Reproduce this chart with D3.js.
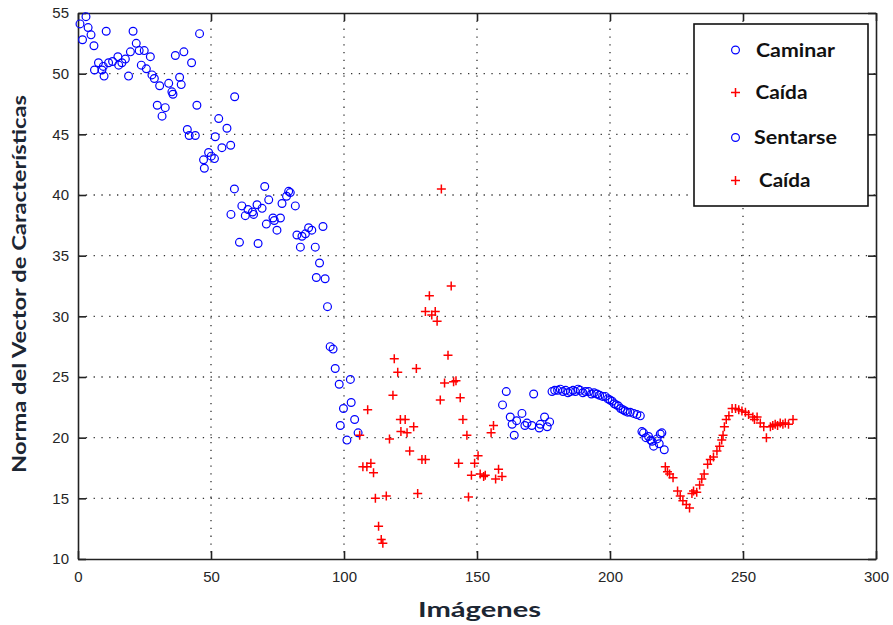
<!DOCTYPE html>
<html><head><meta charset="utf-8">
<script src="https://cdn.jsdelivr.net/npm/d3@7"></script>
<style>body{margin:0;background:#fff}</style>
</head><body><svg id="c" width="893" height="625"></svg>
<script>
const xTicks=[0,50,100,150,200,250,300];
const yTicks=[10,15,20,25,30,35,40,45,50,55];
const xTitle="Imágenes";
const yTitle="Norma del Vector de Características";
const legendLabels=["Caminar","Caída","Sentarse","Caída"];

const caminar=[[0.75,54.1],[1.7,52.8],[3.0,54.7],[3.8,53.8],[4.9,53.2],[6.0,52.3],[6.2,50.3],[7.7,50.9],[9.0,50.3],[9.5,50.6],[9.8,49.8],[10.6,53.5],[11.5,50.9],[13.0,51.0],[15.0,51.4],[15.3,50.7],[16.5,50.9],[17.8,51.2],[19.0,49.8],[19.7,51.8],[20.7,53.5],[21.9,52.5],[23.0,51.9],[23.8,50.7],[24.9,51.9],[25.7,50.4],[27.2,51.4],[27.8,49.9],[28.7,49.6],[29.8,47.4],[30.7,49.0],[31.6,46.5],[32.8,47.2],[34.1,49.2],[35.3,48.5],[35.7,48.3],[36.6,51.5],[38.2,49.7],[38.8,49.1],[39.8,51.8],[41.1,45.4],[41.8,44.9],[42.7,50.9],[44.1,44.9],[44.7,47.4],[45.7,53.3],[47.2,42.9],[47.5,42.2],[49.1,43.5],[50.1,43.2],[51.3,43.0],[51.6,44.8],[52.9,46.3],[54.1,43.9],[56.0,45.5],[57.4,44.1],[58.9,48.1],[57.5,38.4],[58.8,40.5],[60.7,36.1],[61.6,39.1],[62.9,38.3],[63.9,38.8],[65.6,38.6],[66.0,38.4],[67.3,39.2],[67.7,36.0],[69.2,38.9],[70.2,40.7],[70.8,37.6],[71.7,39.6],[73.3,38.1],[73.8,37.9],[74.8,37.1],[76.1,38.1],[76.7,39.3],[78.4,39.9],[79.2,40.3],[79.8,40.2],[81.7,39.1],[82.3,36.7],[83.6,35.7],[84.2,36.6],[85.5,36.8],[86.7,37.3],[87.9,37.1],[89.2,35.7],[89.6,33.2],[90.8,34.4],[92.1,37.4],[92.9,33.1],[93.8,30.8],[94.8,27.5],[95.9,27.3],[96.7,25.7],[98.2,24.4],[98.6,21.0],[99.8,22.4],[101.1,19.8],[102.4,24.8],[102.7,22.9],[104.0,21.5],[105.3,20.4]];

const caida1=[[105.9,20.2],[107.1,17.6],[108.6,17.6],[108.9,22.3],[110.1,17.9],[111.1,17.1],[111.8,15.0],[113.0,12.7],[114.0,11.6],[114.6,11.3],[115.9,15.2],[117.1,19.9],[118.4,23.5],[118.9,26.5],[120.2,25.4],[121.2,21.5],[121.4,20.5],[123.0,21.5],[123.7,20.4],[124.7,18.9],[126.2,20.9],[127.2,25.7],[127.7,15.4],[129.3,18.2],[130.6,18.2],[130.6,30.4],[132.1,31.7],[133.0,30.1],[134.3,30.4],[135.0,29.6],[136.2,23.1],[136.6,40.5],[137.8,24.5],[139.1,26.8],[140.3,32.5],[141.2,24.6],[142.1,24.7],[143.1,17.9],[143.7,23.3],[144.7,21.5],[146.2,20.2],[146.8,15.1],[147.9,16.9],[149.1,17.9],[150.4,18.5],[151.2,17.0],[152.5,16.8],[153.1,16.9],[155.3,20.4],[156.2,21.0],[157.0,16.6],[158.1,17.4],[159.4,16.8]];

const sentarse=[[159.6,22.7],[161.0,23.8],[162.5,21.7],[163.2,21.1],[164.0,20.2],[164.9,21.4],[166.9,22.0],[168.0,21.0],[168.8,21.2],[170.6,21.0],[171.3,23.6],[173.4,20.8],[173.8,21.1],[175.4,21.7],[176.4,20.9],[177.3,21.3],[178.2,23.8],[179.2,23.9],[180.3,23.9],[181.3,24.0],[182.3,23.8],[183.3,23.9],[184.2,23.7],[185.1,23.8],[186.1,23.9],[187.0,23.8],[188.0,24.0],[188.8,23.9],[189.8,23.7],[190.8,23.8],[192.0,23.8],[193.0,23.6],[194.0,23.7],[195.1,23.6],[196.1,23.5],[197.2,23.4],[198.2,23.4],[199.2,23.2],[200.0,23.1],[200.8,23.0],[201.6,22.8],[202.4,22.7],[203.2,22.6],[204.0,22.4],[204.9,22.3],[205.7,22.2],[206.6,22.1],[207.6,22.1],[208.9,22.0],[210.1,21.9],[211.4,21.8],[212.0,20.5],[212.6,20.4],[213.5,20.0],[214.5,20.1],[215.3,19.8],[215.8,19.7],[216.4,19.3],[217.7,19.9],[218.5,19.5],[218.9,20.3],[219.5,20.4],[220.4,19.0]];

const caida2=[[220.8,17.6],[221.6,17.2],[222.4,17.0],[223.7,16.7],[225.4,15.6],[226.4,15.2],[227.4,14.8],[228.7,14.5],[229.9,14.2],[230.8,15.4],[231.4,15.6],[232.6,15.5],[233.7,16.1],[234.5,16.6],[235.4,17.0],[236.7,17.8],[237.7,18.2],[238.9,18.4],[240.2,18.9],[241.2,19.3],[242.0,19.8],[242.5,20.2],[243.0,20.9],[243.7,21.5],[244.7,21.8],[245.9,22.4],[247.2,22.4],[248.4,22.3],[249.6,22.2],[250.9,22.1],[252.1,21.9],[253.7,21.7],[254.3,21.5],[255.3,21.7],[256.5,21.2],[257.8,20.9],[258.8,20.0],[260.3,20.9],[261.2,21.0],[262.1,21.1],[263.0,21.0],[264.0,21.2],[265.0,21.1],[265.9,21.2],[267.1,21.1],[268.8,21.5]];

const L=78,R=876,T=13,B=559;
const svg=d3.select("#c");
const x=d3.scaleLinear().domain([0,300]).range([L,R]);
const y=d3.scaleLinear().domain([10,55]).range([B,T]);

// grid
const g=svg.append("g");
g.selectAll("line.vg").data(xTicks.slice(1,-1)).enter().append("line")
 .attr("x1",d=>x(d)).attr("x2",d=>x(d)).attr("y1",T).attr("y2",B)
 .attr("stroke","#333").attr("stroke-width",1.3).attr("stroke-dasharray","1.3,6.5");
g.selectAll("line.hg").data(yTicks.slice(1,-1)).enter().append("line")
 .attr("y1",d=>y(d)).attr("y2",d=>y(d)).attr("x1",L).attr("x2",R)
 .attr("stroke","#333").attr("stroke-width",1.3).attr("stroke-dasharray","1.3,6.5");

// axes
const tf="Liberation Sans, Arial, sans-serif";
const axB=svg.append("g").attr("transform",`translate(0,${B})`).call(d3.axisBottom(x).tickValues(xTicks).tickSizeInner(-8).tickSizeOuter(0).tickPadding(12));
const axL=svg.append("g").attr("transform",`translate(${L},0)`).call(d3.axisLeft(y).tickValues(yTicks).tickSizeInner(-8).tickSizeOuter(0).tickPadding(9));
const axT=svg.append("g").attr("transform",`translate(0,${T})`).call(d3.axisTop(x).tickValues(xTicks).tickSizeInner(-8).tickSizeOuter(0).tickFormat(""));
const axR=svg.append("g").attr("transform",`translate(${R},0)`).call(d3.axisRight(y).tickValues(yTicks).tickSizeInner(-8).tickSizeOuter(0).tickFormat(""));
[axB,axL,axT,axR].forEach(a=>{
  a.select(".domain").attr("stroke","#222").attr("stroke-width",1.6);
  a.selectAll(".tick line").attr("stroke","#222").attr("stroke-width",1.6);
  a.selectAll(".tick text").attr("fill","#262626").style("font-family",tf).style("font-size","15px");
});

// markers
const plus=(sel,data)=>{
  sel.selectAll(null).data(data).enter().append("path")
   .attr("d",d=>{const cx=x(d[0]),cy=y(d[1]);return `M${cx-4.5},${cy}H${cx+4.5}M${cx},${cy-4.5}V${cy+4.5}`;})
   .attr("stroke","#ff0000").attr("stroke-width",1.5).attr("fill","none");
};
const circ=(sel,data)=>{
  sel.selectAll(null).data(data).enter().append("circle")
   .attr("cx",d=>x(d[0])).attr("cy",d=>y(d[1])).attr("r",3.9)
   .attr("stroke","#0000ff").attr("stroke-width",1.2).attr("fill","none");
};
const m=svg.append("g");
circ(m,caminar); plus(m,caida1); circ(m,sentarse); plus(m,caida2);

// titles
const lf="Lato, 'Open Sans', sans-serif";
svg.append("text").attr("x",479.5).attr("y",617).attr("text-anchor","middle")
 .style("font-family",lf).style("font-weight","bold").style("font-size","20px").attr("fill","#1c2633")
 .attr("textLength",123).attr("lengthAdjust","spacingAndGlyphs").text(xTitle);
svg.append("text").attr("transform","translate(26,284) rotate(-90)").attr("text-anchor","middle")
 .style("font-family",lf).style("font-weight","bold").style("font-size","19px").attr("fill","#1c2633")
 .attr("textLength",378).attr("lengthAdjust","spacingAndGlyphs").text(yTitle);

// legend
const lg=svg.append("g");
lg.append("rect").attr("x",694).attr("y",24).attr("width",174).attr("height",182)
 .attr("fill","#fff").attr("stroke","#111").attr("stroke-width",1.6);
const ly=[50,92.5,137.5,180.5];
const lx=[756,755.5,754,759];
const lw=[79,52,83,51.5];
legendLabels.forEach((t,i)=>{
  if(i%2===0){
    lg.append("circle").attr("cx",735.5).attr("cy",ly[i]).attr("r",3.9)
     .attr("stroke","#0000ff").attr("stroke-width",1.2).attr("fill","none");
  } else {
    lg.append("path").attr("d",`M731,${ly[i]}H740M735.5,${ly[i]-4.5}V${ly[i]+4.5}`)
     .attr("stroke","#ff0000").attr("stroke-width",1.5);
  }
  lg.append("text").attr("x",lx[i]).attr("y",ly[i]+6.5)
   .style("font-family",lf).style("font-weight","bold").style("font-size","19px").attr("fill","#111")
   .attr("textLength",lw[i]).attr("lengthAdjust","spacingAndGlyphs").text(t);
});
</script></body></html>
